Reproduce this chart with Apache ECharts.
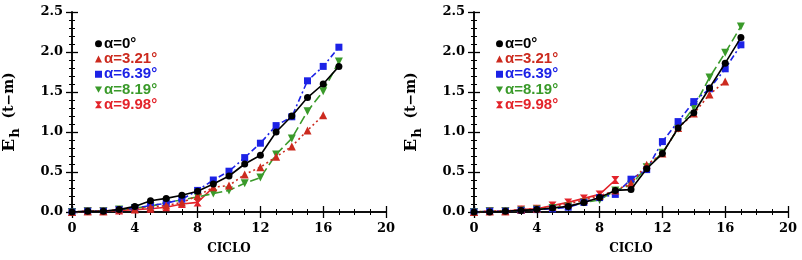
<!DOCTYPE html>
<html><head><meta charset="utf-8">
<script src="https://cdn.jsdelivr.net/npm/echarts@6/dist/echarts.min.js"></script>
<style>html,body{margin:0;padding:0;background:#fff}#c{width:802px;height:260px}</style>
</head><body><div id="c"></div>
<script>
const cycles = [0,1,2,3,4,5,6,7,8,9,10,11,12,13,14,15,16,17];
const legendNames = ['α=0°','α=3.21°','α=6.39°','α=8.19°','α=9.98°'];
const xTicks = [0,4,8,12,16,20];
const yTicks = [0,0.5,1.0,1.5,2.0,2.5];

const L_a0   = [0,0.01,0.01,0.03,0.07,0.14,0.17,0.21,0.26,0.35,0.45,0.6,0.71,1.0,1.2,1.43,1.6,1.82];
const L_a321 = [0,0.01,0.01,0.03,0.04,0.06,0.08,0.12,0.2,0.31,0.33,0.47,0.56,0.69,0.82,1.02,1.21];
const L_a639 = [0,0.01,0.01,0.03,0.05,0.08,0.11,0.16,0.27,0.4,0.51,0.68,0.86,1.08,1.19,1.64,1.82,2.06];
const L_a819 = [0,0.01,0.01,0.03,0.05,0.07,0.12,0.15,0.19,0.23,0.27,0.36,0.43,0.72,0.92,1.26,1.51,1.88];
const L_a998 = [0,0.01,0.01,0.02,0.03,0.04,0.06,0.1,0.12,0.31];

const R_a0   = [0,0.0,0.01,0.02,0.03,0.05,0.07,0.12,0.18,0.27,0.28,0.54,0.73,1.05,1.24,1.55,1.86,2.18];
const R_a321 = [0,0.01,0.01,0.03,0.04,0.07,0.1,0.15,0.2,0.27,0.36,0.59,0.73,1.05,1.23,1.47,1.63];
const R_a639 = [0,0.01,0.01,0.02,0.03,0.04,0.06,0.12,0.18,0.22,0.41,0.53,0.88,1.13,1.38,1.54,1.79,2.09];
const R_a819 = [0,0.01,0.01,0.02,0.03,0.05,0.07,0.12,0.15,0.27,0.34,0.56,0.74,1.04,1.31,1.68,1.99,2.32];
const R_a998 = [0,0.01,0.01,0.03,0.04,0.08,0.12,0.17,0.22,0.4];

const colors = ['#000000','#cc2a1e','#1c22e6','#3a9a2a','#e3232a'];
const DOWN = 'path://M0,0 L10,0 L5,9 Z';
const BOW = 'path://M0,0 L10,0 L6.2,5 L10,10 L0,10 L3.8,5 Z';
const symbols = ['circle','triangle','rect',DOWN,BOW];
const dashes = ['solid',[2,3],[6,3,2,3],[9,4],'solid'];
const SERIF = 'DejaVu Serif';
const SANS = 'Liberation Sans';

function pairs(arr){ return arr.map((v,i)=>[cycles[i],v]); }

function axesFor(gi){
  const tickLab = {fontFamily:SERIF,fontWeight:'bold',fontSize:13,color:'#000'};
  const line = {show:true,lineStyle:{color:'#000',width:1.5}};
  const tick = {inside:true,length:6,lineStyle:{color:'#000',width:1.3}};
  const xMain = {type:'value',gridIndex:gi,min:0,max:20,interval:4,position:'bottom',
    axisLine:line,axisTick:tick,
    minorTick:{show:true,splitNumber:4,length:3,lineStyle:{color:'#000',width:1}},
    splitLine:{show:false},
    axisLabel:{...tickLab,margin:10,formatter:v=>xTicks.includes(v)?String(v):''},
    name:'CICLO',nameLocation:'middle',nameGap:31,
    nameTextStyle:{fontFamily:SERIF,fontWeight:'bold',fontSize:12,color:'#000'}};
  const xTop = {type:'value',gridIndex:gi,min:0,max:20,interval:4,position:'top',
    axisLine:line,axisTick:tick,
    minorTick:{show:true,splitNumber:4,length:3,lineStyle:{color:'#000',width:1}},
    splitLine:{show:false},axisLabel:{show:false}};
  const yMain = {type:'value',gridIndex:gi,min:0,max:2.5,interval:0.5,position:'left',
    axisLine:line,axisTick:tick,
    minorTick:{show:true,splitNumber:5,length:3,lineStyle:{color:'#000',width:1}},
    splitLine:{show:false},
    axisLabel:{...tickLab,margin:9,formatter:v=>yTicks.some(t=>Math.abs(t-v)<1e-9)?v.toFixed(1):''},
    name:'{e|E}{s|h}{t|  (t−m)}',nameLocation:'middle',nameGap:50,nameRotate:90,
    nameTextStyle:{color:'#000',rich:{
      e:{fontFamily:SERIF,fontWeight:'bold',fontSize:17,color:'#000'},
      s:{fontFamily:SERIF,fontWeight:'bold',fontSize:13,color:'#000',padding:[12,0,0,1]},
      t:{fontFamily:SERIF,fontWeight:'bold',fontSize:14,color:'#000'}}}};
  const yRight = {type:'value',gridIndex:gi,min:0,max:2.5,interval:0.5,position:'right',
    axisLine:line,axisTick:tick,
    minorTick:{show:true,splitNumber:5,length:3,lineStyle:{color:'#000',width:1}},
    splitLine:{show:false},axisLabel:{show:false}};
  return {x:[xMain,xTop],y:[yMain,yRight]};
}

const a0 = axesFor(0), a1 = axesFor(1);
const xAxis = [...a0.x, ...a1.x];
const yAxis = [...a0.y, ...a1.y];

function makeSeries(sets, xi, yi, prefix){
  return sets.map((d,k)=>({
    type:'line', name:legendNames[k], id:prefix+k, xAxisIndex:xi, yAxisIndex:yi,
    data:pairs(d), symbol:symbols[k], symbolSize:k===0?7:(k===2?7:8),
    showSymbol:true, animation:false,
    lineStyle:{color:colors[k],width:1.6,type:dashes[k]},
    itemStyle:{color:colors[k]}, z: 5-k
  }));
}

const series = [
  ...makeSeries([L_a0,L_a321,L_a639,L_a819,L_a998],0,0,'L'),
  ...makeSeries([R_a0,R_a321,R_a639,R_a819,R_a998],2,2,'R')
];

function legendFor(left){
  return {orient:'vertical',left:left,top:31,itemWidth:7,itemHeight:7,itemGap:0,
    selectedMode:false,
    data:legendNames.map((n,k)=>({name:n,icon:symbols[k],itemStyle:{color:colors[k]},
      textStyle:{color:colors[k]}})),
    textStyle:{fontFamily:SANS,fontWeight:'bold',fontSize:15,lineHeight:15.3,padding:[0,0,0,-3]}};
}

const chart = echarts.init(document.getElementById('c'),null,{renderer:'canvas'});
chart.setOption({
  animation:false,
  backgroundColor:'#fff',
  grid:[{left:71,right:416,top:12,bottom:48},{left:474,right:14,top:12,bottom:48}],
  xAxis, yAxis, series,
  legend:[legendFor(90),legendFor(491)]
});
</script></body></html>
